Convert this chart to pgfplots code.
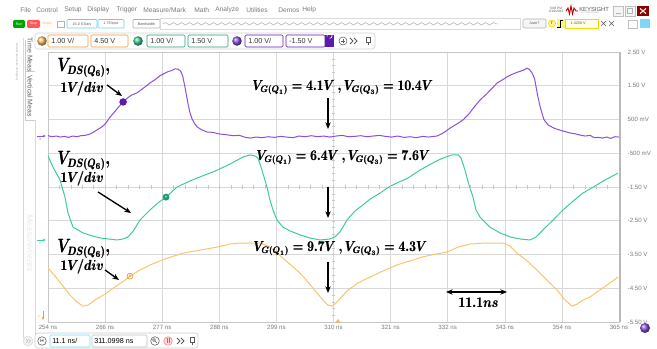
\documentclass[border=0pt]{standalone}
\usepackage[no-math]{fontspec}
\setmainfont{Liberation Sans}
\usepackage{graphicx}
\usepackage{pgfplots}
\pgfplotsset{compat=1.18}
\usetikzlibrary{decorations.pathmorphing,arrows.meta}
\definecolor{cpur}{HTML}{8A4FE0}
\definecolor{cpurd}{HTML}{5A1AB0}
\definecolor{cgrn}{HTML}{3CCB9A}
\definecolor{cgrnd}{HTML}{1E9E6E}
\definecolor{corg}{HTML}{F9C46B}
\definecolor{corgd}{HTML}{EE9A30}
\definecolor{uigray}{HTML}{7A7A7A}
\definecolor{gridc}{HTML}{D8D8D8}
\newcommand{\fb}[1]{\mbox{\rlap{#1}\hspace{0.35pt}#1}}
\begin{document}
\begin{tikzpicture}
\path (0,0) rectangle (492.75pt,261.75pt);
\begin{axis}[at={(36pt,20.25pt)}, anchor=south west, scale only axis,
  width=428.25pt, height=202.5pt,
  xmin=254, xmax=365, ymin=-5.5, ymax=2.5,
  xtick={254,265.1,276.2,287.3,298.4,309.5,320.6,331.7,342.8,353.9,365},
  xticklabels={254 ns,266 ns,277 ns,288 ns,299 ns,310 ns,321 ns,332 ns,343 ns,354 ns,365 ns},
  ytick={-5.5,-4.5,-3.5,-2.5,-1.5,-0.5,0.5,1.5,2.5},
  yticklabels={-5.50 V,-4.50 V,-3.50 V,-2.50 V,-1.50 V,-500 mV,500 mV,1.50 V,2.50 V},
  yticklabel pos=right,
  grid=major, major grid style={gridc, line width=0.4pt},
  axis line style={gray!45, line width=0.4pt},
  tick style={draw=none},
  tick label style={font=\fontsize{4.6}{5}\selectfont, text=uigray},
  yticklabel style={xshift=3pt},
  xticklabel style={yshift=1pt},
  every axis plot/.append style={line width=0.75pt},
]
% purple channel
\addplot[cpur] coordinates {
(254.0,0.02) (254.8,-0.01) (255.6,0.01) (256.4,-0.02) (257.2,0.00) (258.0,-0.03) (258.8,0.01) (259.6,-0.01) (260.4,0.02) (261.2,0.03) (262.0,0.06) (262.8,0.12) (263.6,0.20) (264.4,0.27) (265.2,0.38) (266.0,0.56) (266.8,0.70) (267.6,0.85) (268.6,1.02) (269.4,1.13) (270.2,1.22) (271.3,1.29) (272.3,1.40) (273.8,1.58) (274.8,1.68) (275.8,1.80) (276.6,1.86) (277.2,1.91) (278.0,1.95) (278.7,2.00) (279.3,1.99) (279.8,1.93) (280.2,1.78) (280.7,1.40) (281.2,0.98) (281.6,0.70) (282.0,0.52) (282.5,0.38) (283.0,0.28) (283.8,0.20) (284.9,0.13) (286.0,0.12) (287.4,0.07) (288.6,0.05) (290.0,0.02) (291.2,0.03) (292.4,-0.03) (293.3,-0.05) (294.5,-0.02) (295.6,-0.04) (296.8,-0.01) (298.0,-0.03) (299.2,0.00) (300.4,-0.02) (301.6,-0.04) (302.8,0.01) (304.0,-0.01) (305.2,0.02) (306.4,-0.01) (307.6,0.01) (308.8,-0.02) (310.0,0.01) (311.2,0.03) (312.4,-0.01) (313.6,0.00) (314.8,0.02) (316.0,-0.01) (317.2,0.01) (318.4,0.03) (319.6,0.00) (320.8,-0.02) (322.0,0.01) (323.2,-0.03) (324.4,-0.01) (325.6,-0.04) (326.8,0.00) (328.0,-0.02) (329.6,0.01) (330.6,0.08) (331.4,0.16) (332.2,0.25) (333.4,0.36) (334.7,0.49) (335.8,0.66) (337.0,0.90) (338.0,1.08) (339.2,1.25) (340.3,1.42) (341.3,1.58) (342.4,1.68) (343.4,1.78) (344.4,1.85) (345.4,1.91) (346.4,1.96) (347.1,2.02) (347.6,1.98) (348.1,1.88) (348.6,1.70) (349.2,1.20) (349.7,0.86) (350.4,0.50) (351.2,0.34) (352.4,0.24) (353.4,0.19) (354.1,0.16) (355.5,0.10) (356.4,0.08) (357.4,0.04) (358.4,0.01) (359.4,0.03) (360.2,-0.04) (361.0,-0.03) (361.8,-0.05) (362.6,-0.02) (363.4,-0.06) (364.2,-0.01) (365.0,-0.02)
};
% green channel
\addplot[cgrn] coordinates {
(254.00,-0.58) (254.97,-0.91) (256.33,-1.29) (257.30,-1.80) (257.89,-2.27) (258.86,-2.69) (260.80,-2.86) (262.2,-2.93) (264.11,-3.01) (265.8,-3.04) (267.41,-3.07) (268.6,-3.04) (269.55,-2.98) (270.5,-2.82) (271.88,-2.48) (273.83,-2.18) (275.38,-1.97) (276.94,-1.80) (279.08,-1.50) (281.60,-1.32) (283.55,-1.20) (286.46,-1.03) (289.38,-0.82) (291.91,-0.61) (293.27,-0.55) (294.24,-0.58) (294.82,-0.64) (295.60,-1.00) (296.57,-1.50) (297.16,-1.89) (297.74,-2.18) (298.52,-2.48) (299.68,-2.69) (301.05,-2.80) (302.99,-2.92) (304.93,-3.01) (306.88,-3.07) (308.82,-3.04) (309.79,-2.98) (310.77,-2.83) (312.12,-2.48) (313.68,-2.21) (315.24,-2.03) (316.60,-1.86) (318.54,-1.68) (320.48,-1.48) (322.1,-1.36) (323.79,-1.25) (326.32,-1.00) (328.26,-0.83) (330.20,-0.68) (331.56,-0.60) (332.54,-0.55) (333.70,-0.55) (334.29,-0.64) (335.06,-1.00) (335.84,-1.44) (336.62,-1.80) (337.20,-2.18) (337.98,-2.39) (339.92,-2.69) (341.87,-2.86) (343.81,-2.98) (345.76,-3.04) (347.70,-3.07) (348.87,-2.98) (350.23,-2.77) (352.17,-2.48) (354.12,-2.18) (356.06,-1.92) (358.00,-1.68) (360.34,-1.47) (362.28,-1.29) (364.81,-1.09)
};
% orange channel
\addplot[corg] coordinates {
(254.00,-3.90) (255.36,-4.14) (256.72,-4.40) (258.28,-4.70) (259.64,-4.91) (260.80,-5.03) (261.78,-5.00) (263.14,-4.85) (265.08,-4.67) (267.02,-4.46) (268.97,-4.26) (269.94,-4.14) (271.88,-3.96) (273.83,-3.81) (276.74,-3.63) (280.24,-3.46) (283.55,-3.37) (286.85,-3.28) (289.38,-3.19) (291.32,-3.16) (293.27,-3.16) (295.21,-3.16) (296.77,-3.25) (298.52,-3.46) (300.07,-3.66) (301.63,-3.87) (302.99,-4.05) (304.54,-4.32) (306.29,-4.64) (307.46,-4.85) (308.43,-5.00) (309.21,-5.03) (309.99,-4.94) (312.12,-4.58) (314.26,-4.34) (316.60,-4.17) (319.51,-3.96) (321.85,-3.81) (324.37,-3.69) (326.90,-3.57) (329.23,-3.49) (331.56,-3.43) (333.70,-3.28) (336.04,-3.19) (338.95,-3.16) (342.45,-3.16) (343.81,-3.25) (345.17,-3.46) (347.12,-3.69) (349.06,-3.96) (351.00,-4.26) (352.95,-4.55) (354.50,-4.85) (355.86,-5.03) (356.84,-4.97) (358.00,-4.85) (359.36,-4.76) (361.31,-4.55) (363.25,-4.34) (364.81,-4.17)
};
% channel markers
\addplot[only marks, mark=*, mark size=2.4pt, mark options={fill=cpurd, draw=cpurd}] coordinates {(268.6,1.02)};
\addplot[only marks, mark=*, mark size=2.2pt, mark options={fill=cgrnd, draw=cgrnd}] coordinates {(276.94,-1.80)};
\addplot[only marks, mark=o, mark size=2.2pt, mark options={draw=corgd, fill=corg, line width=0.5pt}] coordinates {(269.94,-4.14)};
\end{axis}

\begin{scope}[yshift=261.75pt, x=0.75pt, y=-0.75pt]
% minor ticks on centre lines
\foreach \k in {1,...,39} {\draw[gray!45, line width=0.3pt] (331.9,52+\k*6.75) -- ++(3.2,0);}
\foreach \k in {1,...,49} {\draw[gray!45, line width=0.3pt] (48+\k*11.42,185.4) -- ++(0,3.2);}
% right border thicker
\draw[gray!55, line width=1.2pt] (620,52) -- (620,322);
% marker glyphs
\node[text=white, font=\fontsize{3}{3}\selectfont\bfseries] at (166,197) {+};
\node[text=corgd, font=\fontsize{3}{3}\selectfont\bfseries] at (130,276) {5};
% ---------- menu bar ----------
\begin{scope}[every node/.style={font=\fontsize{5}{6}\selectfont, text=uigray, anchor=west, inner sep=0}]
\node at (20,10) {File}; \node at (36,10) {Control}; \node at (64,10) {Setup};
\node at (87,10) {Display}; \node at (116,10) {Trigger}; \node at (143,10) {Measure/Mark};
\node at (194,10) {Math}; \node at (215,10) {Analyze}; \node at (246,10) {Utilities};
\node at (278,10) {Demos}; \node at (302,10) {Help};
\end{scope}
% ---------- toolbar ----------
\fill[green!65!black, rounded corners=1pt] (13,20) rectangle (25,28);
\node[text=white, font=\fontsize{2.6}{3}\selectfont] at (19,24) {Run};
\fill[red!65, rounded corners=1pt] (27,20) rectangle (40,28);
\node[text=white, font=\fontsize{2.6}{3}\selectfont] at (33.5,24) {Stop};
\node[text=orange!60, font=\fontsize{2.6}{3}\selectfont] at (47,24) {Single};
\draw[gray!60] (57,21) rectangle (64,27);
\draw[cyan!60, rounded corners=0.8pt] (67,19.5) rectangle (97,28);
\node[text=gray!70!black, font=\fontsize{2.8}{3}\selectfont] at (82,23.8) {16.0 GSa/s};
\draw[cyan!60, rounded corners=0.8pt] (98,19.5) rectangle (124,28);
\node[text=gray!70!black, font=\fontsize{2.8}{3}\selectfont] at (111,23.8) {1.78 kpts};
\draw[gray!60, rounded corners=0.8pt] (133,19.5) rectangle (160,28);
\node[text=gray!70!black, font=\fontsize{2.8}{3}\selectfont] at (146.5,23.8) {Bandwidth};
\draw[gray!30] (160,18.5) rectangle (520,29);
\draw[gray!60, decorate, decoration={snake, amplitude=0.9, segment length=6}] (163,23.8) -- (498,23.8);
\draw[gray!60, rounded corners=1pt, fill=gray!8] (523,19) rectangle (546,28);
\node[text=gray!70!black, font=\fontsize{2.8}{3}\selectfont] at (534.5,23.5) {Auto?};
\draw[yellow!70!orange, fill=yellow!40] (552,23.5) circle (3.6);
\node[font=\fontsize{2.6}{3}\selectfont] at (552,23.5) {T};
\fill[yellow!60] (557,19) rectangle (565,28);
\draw[black, line width=0.7pt] (557,27) -- (560,27) -- (560,20.5) -- (563,20.5);
\draw[yellow!70!orange, fill=yellow!8] (565,19) rectangle (598,28);
\node[text=gray!70!black, font=\fontsize{2.8}{3}\selectfont, anchor=west] at (566,23.5) {1.4200 V};
\draw[gray!70!black, line width=0.5pt] (601,21) -- (606,26) (606,21) -- (601,26) (609,21) -- (614,26) (614,21) -- (609,26);
\draw[gray!50] (628,20) rectangle (637,28);
\fill[cyan!50] (640,19) rectangle (650,28);
% ---------- top right ----------
\node[font=\fontsize{2.4}{2.6}\selectfont, text=gray!70!black, align=center] at (556,10) {6:08 PM\\2/19/2023};
\draw[red!75!black, line width=0.7pt] (566,11) -- (568,8) -- (569.5,14) -- (571,6) -- (572.5,14) -- (574,8) -- (576,11) -- (578,11);
\node[font=\fontsize{4.4}{5}\selectfont, text=gray!70!black, anchor=west, inner sep=0] at (579,9) {KEYSIGHT};
\node[font=\fontsize{1.8}{2}\selectfont, text=gray!60, anchor=west, inner sep=0] at (580,13) {TECHNOLOGIES};
\draw[gray!50, fill=gray!8] (613,6) rectangle (623,16); \draw[gray!60] (615.5,13) -- (620.5,13);
\draw[gray!50, fill=gray!8] (625,6) rectangle (635,16); \draw[gray!60] (627.5,8.5) rectangle (632.5,13.5);
\fill[red!55!black] (637,6) rectangle (649,16); \draw[white, line width=0.8pt] (640,8.5) -- (646,13.5) (646,8.5) -- (640,13.5);
% ---------- channel row ----------
\draw[gray!35, rounded corners=2pt] (35,33) rectangle (375,49);
\shade[ball color=corg] (42,41) circle (4.8);
\draw[corgd, rounded corners=1pt] (48,35) rectangle (88,47);
\draw[corgd, rounded corners=1pt] (91,35) rectangle (128,47);
\shade[ball color=cgrn] (138,41) circle (4.8);
\draw[cgrnd, rounded corners=1pt] (147,35) rectangle (185,47);
\draw[cgrnd, rounded corners=1pt] (188,35) rectangle (228,47);
\shade[ball color=cpur] (237,41) circle (4.8);
\draw[cpurd, rounded corners=1pt] (245,35) rectangle (283,47);
\draw[cpurd, rounded corners=1pt] (286,35) rectangle (325,47);
\fill[cpurd] (325,35) rectangle (334,47);
\draw[white, line width=0.5pt] (329.5,38.4) arc (90:-200:2.6);
\begin{scope}[every node/.style={font=\fontsize{5.4}{6}\selectfont, text=black!80, anchor=west, inner sep=0}]
\node at (51,41) {1.00 V/}; \node at (94,41) {4.50 V};
\node at (150,41) {1.00 V/}; \node at (191,41) {1.50 V};
\node at (248,41) {1.00 V/}; \node at (289,41) {-1.50 V};
\end{scope}
\draw[gray!70!black, line width=0.4pt] (343,41) circle (4); \draw[gray!70!black, line width=0.4pt] (341,41) -- (345,41) (343,39) -- (343,43);
\draw[gray!70!black, line width=0.6pt] (350,38) -- (353,41) -- (350,44) (354,38) -- (357,41) -- (354,44);
\draw[gray!70!black, line width=0.4pt] (366,37) rectangle (370,42) (368,42) -- (368,45);
% ---------- left panel ----------
\draw[gray!30] (23,38) -- (23,338);
\draw[gray!40] (25,40) -- (25,120) -- (35,120);
\draw[gray!40] (25,71) -- (35,71);
\node[rotate=-90, font=\fontsize{5.2}{6}\selectfont, text=gray!75!black] at (30,55) {Time Meas};
\node[rotate=-90, font=\fontsize{5.2}{6}\selectfont, text=gray!75!black] at (30,96) {Vertical Meas};
\node[rotate=-90, font=\fontsize{6.5}{7}\selectfont\itshape, text=gray!18] at (30,243) {Measurements};
\node[rotate=-90, font=\fontsize{2.2}{2.5}\selectfont, text=gray!70] at (17,62) {Results (Measure All Edges)};
\draw[gray!30] (35,120) -- (35,335);
% ground markers
\draw[cpur, line width=0.5pt, -{Stealth[length=2.5pt]}] (37,136) -- (46,136);
\node[font=\fontsize{2.5}{3}\selectfont, text=cpur] at (40,139) {3};
\draw[cgrn, line width=0.5pt, -{Stealth[length=2.5pt]}] (37,240) -- (46,240);
\node[font=\fontsize{2.5}{3}\selectfont, text=cgrn] at (40,243) {2};
\draw[corgd, line width=0.5pt, -{Stealth[length=2.5pt]}] (43,311) -- (43,320);
\node[font=\fontsize{2.5}{3}\selectfont, text=corgd] at (39,316) {1};
\fill[corgd!70] (338,319) -- (341,323) -- (335,323) -- cycle;
\shade[ball color=cpur] (645,328) circle (5);
% ---------- bottom bar ----------
\draw[gray!30, fill=gray!10] (28,341) circle (5);
\draw[gray!50, line width=0.4pt] (26,339) -- (28,341) -- (26,343) (28.5,339) -- (30.5,341) -- (28.5,343);
\draw[gray!40, rounded corners=2pt] (35,333) rectangle (198,348);
\draw[gray!70!black, line width=0.4pt] (42,341) circle (4.3);
\node[font=\fontsize{3.5}{4}\selectfont] at (42,341) {H};
\draw[cyan!50, rounded corners=1pt] (50,335) rectangle (90,347);
\draw[gray!50, rounded corners=1pt] (92,335) rectangle (147,347);
\node[font=\fontsize{5.4}{6}\selectfont, anchor=west, inner sep=0] at (52,341) {11.1 ns/};
\node[font=\fontsize{5.4}{6}\selectfont, anchor=west, inner sep=0] at (94,341) {311.0998 ns};
\draw[gray!70!black, line width=0.4pt] (155,341) circle (4.3); \draw[gray!70!black] (154,340) circle (1.6) (155.2,341.2) -- (157,343);
\draw[red!50, fill=red!15, line width=0.4pt] (168,341) circle (4.3); \draw[red!70, line width=0.5pt] (167,338.5) -- (167,343.5) (169,338.5) -- (169,343.5);
\draw[gray!70!black, line width=0.6pt] (177,338) -- (180,341) -- (177,344) (181,338) -- (184,341) -- (181,344);
\draw[gray!70!black, line width=0.4pt] (190,337) rectangle (194,342) (192,342) -- (192,345);
% ---------- annotations ----------
\begin{scope}[every node/.style={inner sep=0, anchor=west}]
\node[font=\fontsize{13.5}{15}\selectfont\boldmath] at (57,68) {\scalebox{0.76}[1]{\fb{$V_{DS(Q_6)},$}}};
\node[font=\fontsize{11}{13}\selectfont\boldmath] at (60,89) {\scalebox{0.83}[1]{\fb{$1V/div$}}};
\node[font=\fontsize{13.5}{15}\selectfont\boldmath] at (57,161) {\scalebox{0.76}[1]{\fb{$V_{DS(Q_6)},$}}};
\node[font=\fontsize{11}{13}\selectfont\boldmath] at (60,179) {\scalebox{0.83}[1]{\fb{$1V/div$}}};
\node[font=\fontsize{13.5}{15}\selectfont\boldmath] at (57,249) {\scalebox{0.76}[1]{\fb{$V_{DS(Q_6)},$}}};
\node[font=\fontsize{11}{13}\selectfont\boldmath] at (60,267) {\scalebox{0.83}[1]{\fb{$1V/div$}}};
\node[font=\fontsize{10.5}{12}\selectfont\boldmath] at (252,88) {\scalebox{0.81}[1]{\fb{$V_{G(Q_1)}=4.1V\ ,V_{G(Q_3)}=10.4V$}}};
\node[font=\fontsize{10.5}{12}\selectfont\boldmath] at (256,158) {\scalebox{0.81}[1]{\fb{$V_{G(Q_1)}=6.4V\ ,V_{G(Q_3)}=7.6V$}}};
\node[font=\fontsize{10.5}{12}\selectfont\boldmath] at (253,249) {\scalebox{0.81}[1]{\fb{$V_{G(Q_1)}=9.7V\ ,V_{G(Q_3)}=4.3V$}}};
\node[font=\fontsize{10.5}{12}\selectfont\boldmath] at (458,303) {\scalebox{0.83}[1]{\fb{$11.1ns$}}};
\end{scope}
\begin{scope}[line width=1pt, -{Stealth[length=5pt,width=4pt]}]
\draw (107,85) -- (122,96);
\draw (98,192) -- (131,213);
\draw (105,270) -- (119,280);
\draw (328,98) -- (328,129);
\draw (328,187) -- (328,218);
\draw (328,262) -- (328,293);
\draw[{Stealth[length=5pt,width=4pt]}-{Stealth[length=5pt,width=4pt]}] (446,292) -- (507,292);
\end{scope}
\end{scope}
\end{tikzpicture}
\end{document}
